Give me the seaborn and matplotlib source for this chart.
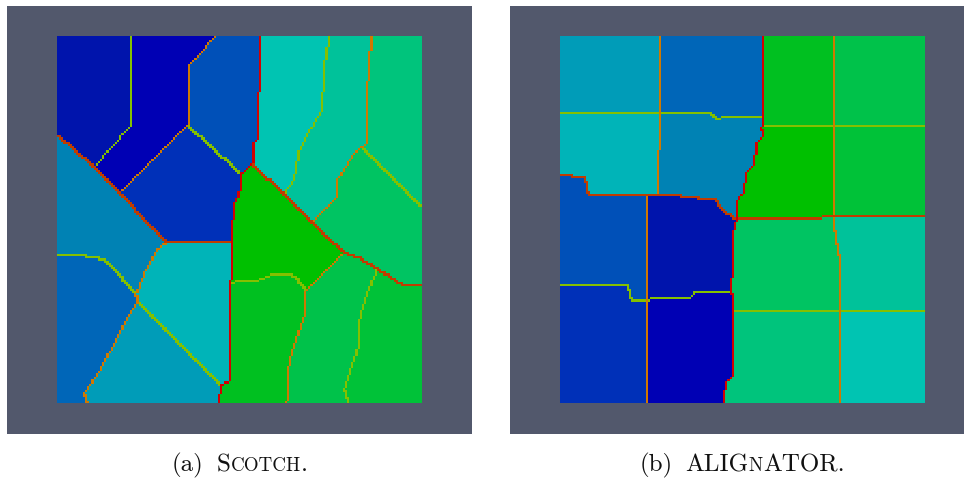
import numpy as np
import matplotlib
matplotlib.use("Agg")
import matplotlib.pyplot as plt
import seaborn as sns
from matplotlib.colors import ListedColormap
from matplotlib.path import Path

# part colours, indexed by part number (recursive bisection, 16 parts)
part_colors = ["#0000b4", "#0014ac", "#0030b8", "#0050b8",
               "#0066b8", "#0082b4", "#009cb8", "#00b4b8",
               "#00c4b2", "#00c29a", "#00c47c", "#00c462",
               "#00c24a", "#00c238", "#00c020", "#00c000"]

# boundary colour by the bisection level at which two parts split
edge_colors = ["#84c000", "#d07800", "#c03c00", "#d40000"]

# (a) Scotch : outlines of each part (pixel units)
a_bounds = (170, 1267, 108, 1210)
a_ids = [1, 0, 3, 2, 5, 4, 7, 6, 8, 9, 10, 11, 15, 14, 12, 13]
a_shapes = [
    [(170, 108), (388, 108), (390, 375), (280, 500), (170, 403)],
    [(388, 108), (645, 108), (565, 195), (562, 375), (355, 578), (280, 500), (390, 375)],
    [(645, 108), (775, 108), (772, 410), (757, 430), (755, 492), (720, 520), (562, 375), (565, 195)],
    [(562, 375), (720, 520), (715, 580), (700, 610), (690, 727), (500, 727), (355, 578)],
    [(170, 403), (280, 500), (355, 578), (500, 727), (470, 745), (430, 820), (405, 880),
     (310, 775), (250, 765), (170, 762)],
    [(170, 762), (250, 765), (310, 775), (405, 880), (410, 905), (375, 960), (335, 1040),
     (290, 1120), (250, 1180), (258, 1210), (170, 1210)],
    [(500, 727), (690, 727), (688, 1140), (663, 1155), (410, 905), (405, 880), (430, 820), (470, 745)],
    [(410, 905), (663, 1155), (657, 1185), (655, 1210), (258, 1210), (250, 1180), (290, 1120),
     (335, 1040), (375, 960)],
    [(775, 108), (985, 108), (970, 200), (965, 330), (920, 400), (895, 455), (880, 540),
     (850, 580), (755, 492), (757, 430), (772, 410)],
    [(985, 108), (1115, 108), (1105, 180), (1100, 300), (1100, 430), (1085, 440), (1060, 460),
     (1010, 540), (1010, 590), (935, 665), (850, 580), (880, 540), (895, 455), (920, 400),
     (965, 330), (970, 200)],
    [(1115, 108), (1267, 108), (1267, 620), (1085, 440), (1100, 430), (1100, 300), (1105, 180)],
    [(1085, 440), (1267, 620), (1267, 850), (1210, 855), (1130, 805), (1075, 770), (1030, 757),
     (935, 665), (1010, 590), (1010, 540), (1060, 460)],
    [(755, 492), (850, 580), (935, 665), (1030, 757), (915, 870), (880, 825), (820, 820),
     (770, 840), (688, 845), (690, 727), (700, 610), (715, 580), (720, 520)],
    [(688, 845), (770, 840), (820, 820), (880, 825), (915, 870), (910, 950), (890, 1010),
     (865, 1080), (857, 1210), (655, 1210), (657, 1185), (663, 1155), (688, 1140)],
    [(915, 870), (1030, 757), (1075, 770), (1130, 805), (1100, 880), (1075, 960), (1070, 1050),
     (1040, 1140), (1030, 1170), (1045, 1210), (857, 1210), (865, 1080), (890, 1010), (910, 950)],
    [(1130, 805), (1210, 855), (1267, 850), (1267, 1210), (1045, 1210), (1030, 1170),
     (1040, 1140), (1070, 1050), (1075, 960), (1100, 880)],
]

# (b) ALIGnATOR
b_bounds = (233, 1330, 108, 1210)
b_ids = [6, 4, 7, 5, 3, 1, 2, 0, 14, 12, 15, 13, 11, 9, 10, 8]
b_shapes = [
    [(233, 108), (530, 108), (530, 338), (233, 338)],
    [(530, 108), (840, 108), (838, 350), (720, 350), (720, 355), (700, 355), (685, 338),
     (585, 338), (580, 332), (565, 333), (530, 338)],
    [(233, 338), (530, 338), (523, 578), (315, 578), (305, 530), (233, 523)],
    [(530, 338), (565, 333), (580, 332), (585, 338), (685, 338), (700, 355), (720, 355),
     (720, 350), (838, 350), (835, 380), (840, 405), (820, 430), (815, 490), (790, 520),
     (780, 580), (765, 600), (762, 655), (745, 645), (715, 625), (695, 592), (600, 590),
     (590, 580), (523, 578)],
    [(233, 523), (305, 530), (315, 578), (492, 582), (492, 900), (450, 900), (440, 890),
     (435, 855), (233, 855)],
    [(492, 582), (590, 580), (600, 590), (695, 592), (715, 625), (745, 645), (762, 655),
     (750, 700), (745, 870), (640, 870), (625, 890), (510, 890), (505, 900), (492, 900)],
    [(233, 855), (435, 855), (440, 890), (450, 900), (492, 900), (492, 1210), (233, 1210)],
    [(492, 900), (505, 900), (510, 890), (625, 890), (640, 870), (745, 870), (748, 1130),
     (730, 1150), (725, 1180), (720, 1210), (492, 1210)],
    [(840, 108), (1053, 108), (1052, 376), (838, 376), (838, 350)],
    [(1053, 108), (1330, 108), (1330, 372), (1052, 372)],
    [(838, 376), (1052, 376), (1052, 645), (1020, 648), (1015, 655), (762, 655), (765, 600),
     (780, 580), (790, 520), (815, 490), (820, 430), (840, 405), (835, 380)],
    [(1052, 372), (1330, 372), (1330, 645), (1052, 645)],
    [(762, 655), (1015, 655), (1020, 648), (1052, 645), (1055, 690), (1065, 750), (1075, 790),
     (1075, 930), (750, 930), (745, 870), (750, 700)],
    [(1052, 645), (1330, 645), (1330, 930), (1075, 930), (1075, 790), (1065, 750), (1055, 690)],
    [(750, 930), (1075, 930), (1075, 1210), (720, 1210), (725, 1180), (730, 1150), (748, 1130)],
    [(1075, 930), (1330, 930), (1330, 1210), (1075, 1210)],
]

N = 170
W, H = 964, 479
grey = "#52586c"


def rasterize(shapes, ids, bounds, n=N):
    x0, x1, y0, y1 = bounds
    xs = x0 + (np.arange(n) + 0.5) * (x1 - x0) / n
    ys = y0 + (np.arange(n) + 0.5) * (y1 - y0) / n
    gx, gy = np.meshgrid(xs, ys)
    pts = np.column_stack([gx.ravel(), gy.ravel()])
    lab = np.full(n * n, -1)
    for shape, pid in zip(shapes, ids):
        inside = Path(shape).contains_points(pts) & (lab < 0)
        lab[inside] = pid
    lab = lab.reshape(n, n)
    # fill the few cells that fall between outlines
    while (lab < 0).any():
        for sh in [(0, 1), (0, -1), (1, 0), (-1, 0)]:
            nb = np.roll(lab, sh, axis=(0, 1))
            m = (lab < 0) & (nb >= 0)
            lab[m] = nb[m]
    return lab


def edge_levels(lab):
    lev = np.full(lab.shape, np.nan)
    dh = lab[:, 1:] ^ lab[:, :-1]
    dv = lab[1:, :] ^ lab[:-1, :]
    lh = np.where(dh > 0, np.floor(np.log2(np.maximum(dh, 1))), np.nan)
    lv = np.where(dv > 0, np.floor(np.log2(np.maximum(dv, 1))), np.nan)
    lev[:, 1:] = np.fmax(lev[:, 1:], lh)
    lev[1:, :] = np.fmax(lev[1:, :], lv)
    return lev


def px_axes(fig, x0, y0, x1, y1):
    return fig.add_axes([x0 / W, 1 - y1 / H, (x1 - x0) / W, (y1 - y0) / H])


def caption(fig, xc, yb, parts, size):
    r = fig.canvas.get_renderer()
    texts = []
    for s, scale, gap in parts:
        t = fig.text(0, 1 - yb / H, s, fontsize=size * scale, family="cmr10",
                     va="baseline", color="#111111")
        texts.append((t, gap))
    widths = [t.get_window_extent(r).width + gap for t, gap in texts]
    x = xc - sum(widths) / 2
    for (t, gap), w in zip(texts, widths):
        t.set_x(x / W)
        x += w


fig = plt.figure(figsize=(W / 100, H / 100), dpi=100)
part_cmap = ListedColormap(part_colors)
edge_cmap = ListedColormap(edge_colors)

panels = [
    (a_shapes, a_ids, a_bounds, (7, 6, 472, 434), (57, 36, 422, 403)),
    (b_shapes, b_ids, b_bounds, (510, 6, 964, 434), (560, 36, 925, 403)),
]
for shapes, ids, bounds, outer, inner in panels:
    bg = px_axes(fig, *outer)
    bg.set_facecolor(grey)
    bg.set_xticks([])
    bg.set_yticks([])
    for sp in bg.spines.values():
        sp.set_visible(False)

    lab = rasterize(shapes, ids, bounds)
    lev = edge_levels(lab)
    ax = px_axes(fig, *inner)
    sns.heatmap(lab, cmap=part_cmap, vmin=-0.5, vmax=15.5, cbar=False,
                xticklabels=False, yticklabels=False, ax=ax)
    sns.heatmap(lev, mask=np.isnan(lev), cmap=edge_cmap, vmin=-0.5, vmax=3.5,
                cbar=False, xticklabels=False, yticklabels=False, ax=ax)
    ax.set_xlabel("")
    ax.set_ylabel("")

caption(fig, 240, 471, [("(a)", 1, 13), ("S", 1, 0), ("COTCH", 0.76, 0), (".", 1, 0)], 18)
caption(fig, 742, 471, [("(b)", 1, 13), ("ALIG", 1, 0), ("N", 0.76, 0), ("ATOR.", 1, 0)], 18)

fig.savefig("out.png", dpi=100, facecolor="white")
